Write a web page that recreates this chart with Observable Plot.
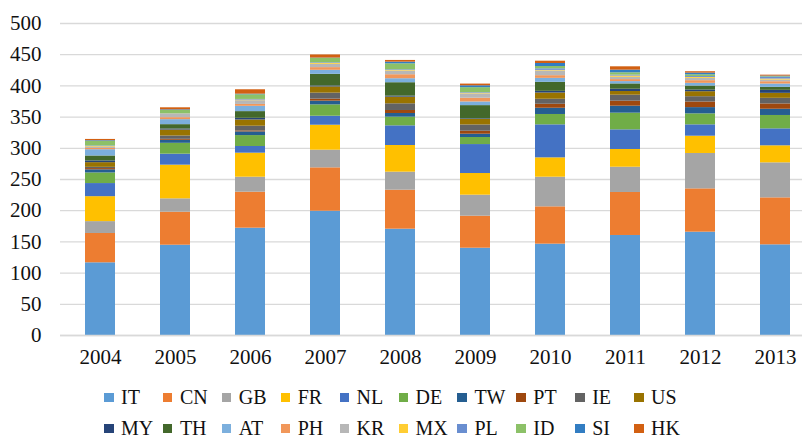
<!DOCTYPE html>
<html>
<head>
<meta charset="utf-8">
<script src="https://cdn.jsdelivr.net/npm/d3@7"></script>
<script src="https://cdn.jsdelivr.net/npm/@observablehq/plot@0.6"></script>
<style>
  html, body { margin: 0; padding: 0; background: #fff; }
  #chart { position: relative; width: 802px; height: 440px; overflow: hidden; font-family: "Liberation Serif", "Times New Roman", serif; }
  #chart svg { display: block; }
  .lg-item { position: absolute; height: 16px; line-height: 16px; font-size: 20px; color: #111; white-space: nowrap; }
  .lg-sw { position: absolute; left: 0; top: 3.5px; width: 9.5px; height: 9.5px; }
  .lg-tx { position: absolute; left: 17px; top: 0; }
</style>
</head>
<body>
<div id="chart"></div>
<script>
const years = ["2004","2005","2006","2007","2008","2009","2010","2011","2012","2013"];
const countries = ["IT","CN","GB","FR","NL","DE","TW","PT","IE","US","MY","TH","AT","PH","KR","MX","PL","ID","SI","HK"];
const colors = ["#5B9BD5","#ED7D31","#A5A5A5","#FFC000","#4472C4","#70AD47","#255E91","#9E480E","#636363","#997300",
                "#264478","#43682B","#7CAFDD","#F1975A","#B7B7B7","#FFCD33","#698ED0","#8CC168","#327DC2","#D26012"];
const yTicks = [0,50,100,150,200,250,300,350,400,450,500];

//            2004   2005   2006   2007   2008   2009   2010   2011   2012   2013
const IT = [116.5, 144.7, 172.0, 199.2, 170.4, 139.9, 146.4, 160.3, 165.6, 145.3];
const CN = [ 47.0,  52.9,  57.7,  69.5,  62.5,  51.3,  59.8,  68.9,  69.4,  75.3];
const GB = [ 19.0,  21.4,  24.0,  28.3,  28.9,  33.7,  47.5,  40.5,  56.7,  56.1];
const FR = [ 40.0,  54.0,  38.5,  40.0,  42.7,  34.7,  31.0,  28.4,  27.7,  27.3];
const NL = [ 21.0,  17.6,  10.7,  14.4,  31.5,  46.4,  52.9,  31.5,  18.2,  27.2];
const DE = [ 17.0,  17.4,  17.5,  18.2,  13.9,  11.3,  16.6,  26.7,  17.6,  21.4];
const TW = [  5.0,   4.8,   5.9,   6.0,   5.9,   5.3,  10.0,  11.2,  10.0,  10.0];
const PT = [  2.0,   1.6,   1.6,   3.2,   4.8,   4.8,   6.4,   8.0,   9.0,   8.5];
const IE = [  2.0,   5.3,   7.5,   9.6,  10.7,  10.0,   8.0,   9.6,   8.5,   9.0];
const US = [  7.5,   9.6,  10.0,  10.0,  10.7,   9.0,  10.0,   5.9,   8.0,   8.0];
const MY = [  2.7,   1.6,   2.7,   1.5,   1.6,   1.0,   2.7,   3.7,   2.7,   4.8];
const TH = [  8.0,   7.0,  10.7,  18.7,  21.5,  21.0,  14.4,   8.5,   6.4,   4.8];
const AT = [ 10.0,   8.0,   8.5,   6.4,   6.4,   5.9,   6.4,   3.7,   4.3,   5.3];
const PH = [  2.0,   3.2,   3.0,   4.3,   6.4,   5.9,   4.3,   3.2,   4.3,   3.7];
const KR = [  2.0,   5.3,   6.0,   5.3,   5.9,   7.0,   7.5,   3.7,   3.7,   2.7];
const MX = [  1.0,   0.5,   1.0,   1.5,   1.0,   1.0,   1.0,   2.0,   1.5,   1.6];
const PL = [  1.0,   0.5,   1.0,   1.0,   1.0,   1.0,   2.5,   1.5,   1.5,   2.7];
const ID = [  7.5,   5.3,   7.5,   7.0,   9.6,   8.0,   3.7,   3.7,   2.7,   1.0];
const SI = [  1.0,   1.0,   1.0,   0.5,   2.7,   3.0,   4.8,   4.3,   2.7,   1.0];
const HK = [  2.0,   3.2,   7.0,   5.0,   2.7,   2.7,   3.7,   5.3,   2.2,   1.5];

const seriesValues = [IT, CN, GB, FR, NL, DE, TW, PT, IE, US, MY, TH, AT, PH, KR, MX, PL, ID, SI, HK];

const rows = [];
countries.forEach((c, ci) => {
  years.forEach((yr, yi) => rows.push({year: yr, country: c, value: seriesValues[ci][yi]}));
});

const fontFam = "'Liberation Serif', 'Times New Roman', serif";

const chart = Plot.plot({
  width: 802,
  height: 370,
  marginLeft: 60,
  marginRight: 0,
  marginTop: 23,
  marginBottom: 35,
  style: {fontFamily: fontFam, fontSize: "21px", color: "#111", background: "#fff"},
  x: {domain: years, range: [60, 814.4], paddingInner: 0.6, paddingOuter: 0.3, label: null},
  y: {domain: [0, 500], label: null},
  color: {domain: countries, range: colors},
  marks: [
    Plot.gridY(yTicks, {stroke: "#d9d9d9", strokeOpacity: 1, strokeWidth: 1.3}),
    Plot.barY(rows, {x: "year", y: "value", fill: "country", z: "country"}),
    Plot.ruleY([0], {stroke: "#d9d9d9", strokeWidth: 1.6}),
    Plot.axisY(yTicks, {tickSize: 0, tickPadding: 19, fontSize: 21, fontFamily: fontFam, fill: "#111", label: null}),
    Plot.axisX({tickSize: 0, tickPadding: 14, fontSize: 21, fontFamily: fontFam, fill: "#111", label: null})
  ]
});

const root = document.getElementById("chart");
root.appendChild(chart);

// Legend (two rows of ten)
countries.forEach((c, i) => {
  const row = Math.floor(i / 10), col = i % 10;
  const item = document.createElement("div");
  item.className = "lg-item";
  item.style.left = (104 + col * 58.9) + "px";
  item.style.top = (389 + row * 31) + "px";
  const sw = document.createElement("span");
  sw.className = "lg-sw";
  sw.style.background = colors[i];
  const tx = document.createElement("span");
  tx.className = "lg-tx";
  tx.textContent = c;
  item.appendChild(sw);
  item.appendChild(tx);
  root.appendChild(item);
});
</script>
</body>
</html>
